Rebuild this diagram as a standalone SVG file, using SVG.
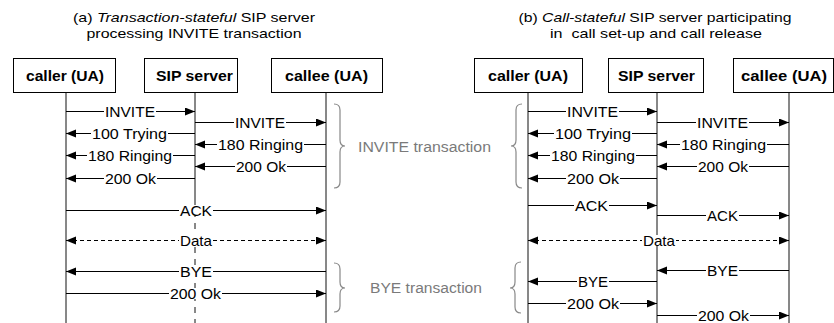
<svg xmlns="http://www.w3.org/2000/svg" width="834" height="323" viewBox="0 0 834 323">
<style>
text{font-family:"Liberation Sans",Arial,sans-serif;fill:#000}
.t{font-size:13.5px;text-anchor:middle}
.b{font-size:15px;font-weight:bold;text-anchor:middle}
.m{font-size:14.5px;text-anchor:middle}
.g{font-size:14px;fill:#7a7a7a}
.box{fill:#fff;stroke:#000;stroke-width:1}
.life{stroke:#111;stroke-width:1;fill:none}
.msg{stroke:#000;stroke-width:1;fill:none;marker-end:url(#ah)}
.dash{stroke:#000;stroke-width:1;fill:none;stroke-dasharray:4 3;marker-end:url(#ah);marker-start:url(#ahs)}
.bg{fill:#fff}
.br{fill:none;stroke:#888;stroke-width:1.2}
</style>
<defs>
<marker id="ah" markerUnits="userSpaceOnUse" markerWidth="11" markerHeight="9" refX="10" refY="4" orient="auto"><path d="M0,0 L10,4 L0,8 z" fill="#000"/></marker>
<marker id="ahs" markerUnits="userSpaceOnUse" markerWidth="11" markerHeight="9" refX="10" refY="4" orient="auto-start-reverse"><path d="M0,0 L10,4 L0,8 z" fill="#000"/></marker>
</defs>

<g id="titles">
<text class="t" x="194" y="22" textLength="242" lengthAdjust="spacingAndGlyphs">(a) <tspan font-style="italic">Transaction-stateful</tspan> SIP server</text>
<text class="t" x="194" y="38" textLength="215" lengthAdjust="spacingAndGlyphs">processing INVITE transaction</text>
<text class="t" x="655" y="22" textLength="273" lengthAdjust="spacingAndGlyphs">(b) <tspan font-style="italic">Call-stateful</tspan> SIP server participating</text>
<text class="t" x="656" y="38" textLength="212" lengthAdjust="spacingAndGlyphs" xml:space="preserve">in  call set-up and call release</text>
</g>

<g id="lifelines">
<line class="life" x1="66" y1="92" x2="66" y2="323"/>
<line class="life" x1="195" y1="92" x2="195" y2="199"/>
<line class="life" x1="195" y1="199" x2="195" y2="323" stroke-dasharray="6 6"/>
<line class="life" x1="326" y1="92" x2="326" y2="323"/>
<line class="life" x1="528" y1="92" x2="528" y2="323"/>
<line class="life" x1="657" y1="92" x2="657" y2="323"/>
<line class="life" x1="789" y1="92" x2="789" y2="323"/>
</g>

<g id="a-caller"><rect class="box" x="13.5" y="58.5" width="102" height="34"/><text class="b" x="65" y="81" textLength="78" lengthAdjust="spacingAndGlyphs">caller (UA)</text></g>
<g id="a-server"><rect class="box" x="144.5" y="58.5" width="93" height="34"/><text class="b" x="194.5" y="81" textLength="77" lengthAdjust="spacingAndGlyphs">SIP server</text></g>
<g id="a-callee"><rect class="box" x="271.5" y="58.5" width="111" height="34"/><text class="b" x="326.5" y="81" textLength="83" lengthAdjust="spacingAndGlyphs">callee (UA)</text></g>
<g id="b-caller"><rect class="box" x="474.5" y="58.5" width="108" height="34"/><text class="b" x="528" y="81" textLength="80" lengthAdjust="spacingAndGlyphs">caller (UA)</text></g>
<g id="b-server"><rect class="box" x="608.5" y="58.5" width="95" height="34"/><text class="b" x="656.5" y="81" textLength="77" lengthAdjust="spacingAndGlyphs">SIP server</text></g>
<g id="b-callee"><rect class="box" x="733.5" y="58.5" width="100" height="34"/><text class="b" x="784" y="81" textLength="86" lengthAdjust="spacingAndGlyphs">callee (UA)</text></g>

<g id="connectors">
<line class="msg" x1="66" y1="111.5" x2="195" y2="111.5"/><rect class="bg" x="104" y="106" width="52" height="11"/><text class="m" x="130" y="116.5" textLength="50" lengthAdjust="spacingAndGlyphs">INVITE</text>
<line class="msg" x1="195" y1="122.5" x2="326" y2="122.5"/><rect class="bg" x="234" y="117" width="52" height="11"/><text class="m" x="260" y="127.5" textLength="50" lengthAdjust="spacingAndGlyphs">INVITE</text>
<line class="msg" x1="195" y1="133.5" x2="66" y2="133.5"/><rect class="bg" x="91" y="128" width="77" height="11"/><text class="m" x="129.5" y="138.5" textLength="75" lengthAdjust="spacingAndGlyphs">100 Trying</text>
<line class="msg" x1="326" y1="144.5" x2="195" y2="144.5"/><rect class="bg" x="217" y="139" width="87" height="11"/><text class="m" x="260.5" y="149.5" textLength="85" lengthAdjust="spacingAndGlyphs">180 Ringing</text>
<line class="msg" x1="195" y1="155.5" x2="66" y2="155.5"/><rect class="bg" x="87" y="150" width="86" height="11"/><text class="m" x="130" y="160.5" textLength="84" lengthAdjust="spacingAndGlyphs">180 Ringing</text>
<line class="msg" x1="326" y1="166.5" x2="195" y2="166.5"/><rect class="bg" x="235" y="161" width="52" height="11"/><text class="m" x="261" y="171.5" textLength="50" lengthAdjust="spacingAndGlyphs">200 Ok</text>
<line class="msg" x1="195" y1="178.5" x2="66" y2="178.5"/><rect class="bg" x="104" y="173" width="53" height="11"/><text class="m" x="130.5" y="183.5" textLength="51" lengthAdjust="spacingAndGlyphs">200 Ok</text>
<line class="msg" x1="66" y1="210.5" x2="326" y2="210.5"/><rect class="bg" x="179" y="205" width="34" height="11"/><text class="m" x="196" y="215.5" textLength="32" lengthAdjust="spacingAndGlyphs">ACK</text>
<line class="dash" x1="66" y1="240.5" x2="326" y2="240.5"/><rect class="bg" x="179" y="235" width="34" height="11"/><text class="m" x="196" y="245.5" textLength="32" lengthAdjust="spacingAndGlyphs">Data</text>
<line class="msg" x1="326" y1="271.5" x2="66" y2="271.5"/><rect class="bg" x="179" y="266" width="34" height="11"/><text class="m" x="196" y="276.5" textLength="32" lengthAdjust="spacingAndGlyphs">BYE</text>
<line class="msg" x1="66" y1="293.5" x2="326" y2="293.5"/><rect class="bg" x="169" y="288" width="53" height="11"/><text class="m" x="195.5" y="298.5" textLength="51" lengthAdjust="spacingAndGlyphs">200 Ok</text>
<line class="msg" x1="528" y1="111.5" x2="657" y2="111.5"/><rect class="bg" x="566" y="106" width="53" height="11"/><text class="m" x="592.5" y="116.5" textLength="51" lengthAdjust="spacingAndGlyphs">INVITE</text>
<line class="msg" x1="657" y1="122.5" x2="789" y2="122.5"/><rect class="bg" x="696" y="117" width="53" height="11"/><text class="m" x="722.5" y="127.5" textLength="51" lengthAdjust="spacingAndGlyphs">INVITE</text>
<line class="msg" x1="657" y1="133.5" x2="528" y2="133.5"/><rect class="bg" x="554" y="128" width="78" height="11"/><text class="m" x="593" y="138.5" textLength="76" lengthAdjust="spacingAndGlyphs">100 Trying</text>
<line class="msg" x1="789" y1="144.5" x2="657" y2="144.5"/><rect class="bg" x="680" y="139" width="87" height="11"/><text class="m" x="723.5" y="149.5" textLength="85" lengthAdjust="spacingAndGlyphs">180 Ringing</text>
<line class="msg" x1="657" y1="155.5" x2="528" y2="155.5"/><rect class="bg" x="550" y="150" width="86" height="11"/><text class="m" x="593" y="160.5" textLength="84" lengthAdjust="spacingAndGlyphs">180 Ringing</text>
<line class="msg" x1="789" y1="166.5" x2="657" y2="166.5"/><rect class="bg" x="697" y="161" width="52" height="11"/><text class="m" x="723" y="171.5" textLength="50" lengthAdjust="spacingAndGlyphs">200 Ok</text>
<line class="msg" x1="657" y1="178.5" x2="528" y2="178.5"/><rect class="bg" x="566" y="173" width="54" height="11"/><text class="m" x="593" y="183.5" textLength="52" lengthAdjust="spacingAndGlyphs">200 Ok</text>
<line class="msg" x1="528" y1="205.5" x2="657" y2="205.5"/><rect class="bg" x="574" y="200" width="35" height="11"/><text class="m" x="591.5" y="210.5" textLength="33" lengthAdjust="spacingAndGlyphs">ACK</text>
<line class="msg" x1="657" y1="215.5" x2="789" y2="215.5"/><rect class="bg" x="706" y="210" width="33" height="11"/><text class="m" x="722.5" y="220.5" textLength="31" lengthAdjust="spacingAndGlyphs">ACK</text>
<line class="dash" x1="528" y1="240.5" x2="789" y2="240.5"/><rect class="bg" x="642" y="235" width="34" height="11"/><text class="m" x="659" y="245.5" textLength="32" lengthAdjust="spacingAndGlyphs">Data</text>
<line class="msg" x1="789" y1="270.5" x2="657" y2="270.5"/><rect class="bg" x="706" y="265" width="33" height="11"/><text class="m" x="722.5" y="275.5" textLength="31" lengthAdjust="spacingAndGlyphs">BYE</text>
<line class="msg" x1="657" y1="281.5" x2="528" y2="281.5"/><rect class="bg" x="577" y="276" width="32" height="11"/><text class="m" x="593" y="286.5" textLength="30" lengthAdjust="spacingAndGlyphs">BYE</text>
<line class="msg" x1="528" y1="303.5" x2="657" y2="303.5"/><rect class="bg" x="566" y="298" width="54" height="11"/><text class="m" x="593" y="308.5" textLength="52" lengthAdjust="spacingAndGlyphs">200 Ok</text>
<line class="msg" x1="657" y1="315.5" x2="789" y2="315.5"/><rect class="bg" x="697" y="310" width="53" height="11"/><text class="m" x="723.5" y="320.5" textLength="51" lengthAdjust="spacingAndGlyphs">200 Ok</text>
</g>

<g id="invite-transaction-a">
<path class="br" d="M334,104 Q340,104 340,110 L340,140 Q340,146 345,146 Q340,146 340,152 L340,182 Q340,188 334,188"/>
<text class="g" x="358" y="152" textLength="133" lengthAdjust="spacingAndGlyphs">INVITE transaction</text>
</g>
<g id="bye-transaction-a">
<path class="br" d="M334,263 Q340,263 340,269 L340,282 Q340,288 345,288 Q340,288 340,294 L340,306 Q340,312 334,312"/>
<text class="g" x="370" y="293" textLength="112" lengthAdjust="spacingAndGlyphs">BYE transaction</text>
</g>
<g id="invite-transaction-b">
<path class="br" d="M522,104 Q516,104 516,110 L516,140 Q516,146 511,146 Q516,146 516,152 L516,182 Q516,188 522,188"/>
</g>
<g id="bye-transaction-b">
<path class="br" d="M521,262 Q515,262 515,268 L515,282 Q515,288 510,288 Q515,288 515,294 L515,307 Q515,313 521,313"/>
</g>
</svg>
